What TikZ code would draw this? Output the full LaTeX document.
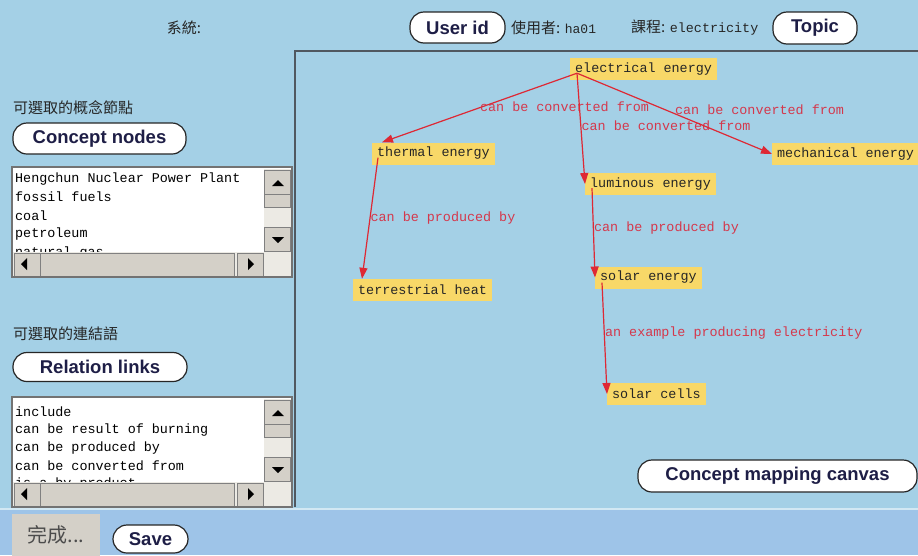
\documentclass[tikz,border=0pt]{standalone}
\usepackage{fontspec}
\setmainfont{Liberation Sans}
\newfontfamily\monofont{Liberation Mono}
\newfontfamily\cjk{Noto Sans CJK TC}
\usetikzlibrary{arrows.meta,positioning}
\definecolor{bgblue}{RGB}{164,208,230}
\definecolor{stripblue}{RGB}{158,196,232}
\definecolor{nodeyellow}{RGB}{248,216,104}
\definecolor{linkred}{RGB}{222,40,52}
\definecolor{labelred}{RGB}{212,56,76}
\definecolor{framegray}{RGB}{80,88,96}
\definecolor{sbgray}{RGB}{212,208,200}
\definecolor{sbtrack}{RGB}{236,234,228}
\definecolor{btnnavy}{RGB}{30,30,70}
\begin{document}
\begin{tikzpicture}[x=1pt, y=-1pt,
    concept/.style = {fill=nodeyellow, text=black!85, font=\monofont\fontsize{13.4}{15}\selectfont,
                      inner xsep=5pt, inner ysep=0pt, minimum height=22pt, anchor=west},
    link/.style = {draw=linkred, line width=1.2pt, -{Triangle[length=11pt,width=8pt]}},
    rel/.style = {text=labelred, font=\monofont\fontsize{13.4}{15}\selectfont, inner sep=0pt, anchor=west},
    pill/.style = {draw=black!85, line width=1.2pt, fill=white, rounded corners=14pt, text=btnnavy,
                   font=\bfseries\fontsize{18.5}{20}\selectfont, inner sep=0pt},
    item/.style = {font=\monofont\fontsize{13.4}{15}\selectfont, inner sep=0pt, anchor=west},
    zh/.style = {font=\cjk\fontsize{15}{17}\selectfont, text=black!85, inner sep=0pt},
    sbtn/.style = {fill=sbgray, draw=black!50, line width=0.8pt}]
\useasboundingbox (0,0) rectangle (918,555);

% window background
\fill[bgblue] (0,0) rectangle (918,509);
\fill[stripblue] (0,509) rectangle (918,555);
\draw[white!50!bgblue, line width=1.5pt] (0,509) -- (918,509);
\draw[framegray, line width=2pt] (295,507) -- (295,51) -- (919,51);

% header
\node[zh] (sys) at (184,28) {系統:};
\node[pill, minimum width=95pt, minimum height=31pt] (userid) at (457.5,27.5) {User id};
\node[zh, anchor=west] (user) at (511,28) {使用者: {\monofont\fontsize{13}{15}\selectfont ha01}};
\node[zh, anchor=west] (course) at (631,28) {課程: {\monofont\fontsize{13.4}{15}\selectfont electricity}};
\node[pill, minimum width=84pt, minimum height=32pt] (topic) at (815,28) {Topic};

% left panel
\node[zh, anchor=west] (nodelbl) at (13,108) {可選取的概念節點};
\node[pill, minimum width=173pt, minimum height=31pt] (cnodes) at (99.5,138.5) {Concept nodes};
\node[zh, anchor=west] (linklbl) at (13,334) {可選取的連結語};
\node[pill, minimum width=174pt, minimum height=29pt] (rlinks) at (100,367) {Relation links};

\foreach \ly in {167,397}
  \fill[white] (12,\ly) rectangle (292,\ly+110);

\foreach \txt [count=\i] in {Hengchun Nuclear Power Plant, fossil fuels, coal, petroleum, natural gas}
  \node[item] (cn\i) at (15,160+18.6*\i) {\txt};
\foreach \txt [count=\i] in {include, can be result of burning, can be produced by, can be converted from, is a by-product}
  \node[item] (rl\i) at (15,393.5+18.1*\i) {\txt};

% scroll bars
\foreach \ly in {167,397} {
  \fill[sbtrack] (264,\ly+2) rectangle (291,\ly+85);
  \draw[sbtn] (264,\ly+3) rectangle (290,\ly+27);
  \fill (272,\ly+19) -- (284,\ly+19) -- (278,\ly+13) -- cycle;
  \draw[sbtn] (264,\ly+27) rectangle (290,\ly+40);
  \draw[sbtn] (264,\ly+60) rectangle (290,\ly+84);
  \fill (272,\ly+70) -- (284,\ly+70) -- (278,\ly+76) -- cycle;
  \fill[sbtrack] (13,\ly+85) rectangle (291,\ly+109);
  \draw[sbtn] (14,\ly+86) rectangle (40,\ly+109);
  \fill (21,\ly+97) -- (27,\ly+91) -- (27,\ly+103) -- cycle;
  \draw[sbtn] (40,\ly+86) rectangle (234,\ly+109);
  \draw[sbtn] (237,\ly+86) rectangle (263,\ly+109);
  \fill (254,\ly+97) -- (248,\ly+91) -- (248,\ly+103) -- cycle;
  \draw[black!55, line width=1.5pt] (12,\ly) rectangle (292,\ly+110);
}

% bottom buttons
\node[fill=sbgray, minimum width=88pt, minimum height=42pt, inner sep=0pt, text=black!70,
      font=\cjk\fontsize{20}{22}\selectfont] (done) at (56,535) {完成...};
\node[pill, minimum width=75pt, minimum height=28pt] (save) at (150.5,539) {Save};
\node[pill, minimum width=279pt, minimum height=32pt] (canvasbtn) at (777.5,476) {Concept mapping canvas};

% concept map
\node[concept] (elec)  at (570,69)    {electrical energy};
\node[concept] (therm) at (372,153.5) {thermal energy};
\node[concept] (mech)  at (772,154)   {mechanical energy};
\node[concept] (lum)   at (585,184)   {luminous energy};
\node[concept] (terr)  at (353,290)   {terrestrial heat};
\node[concept] (solar) at (595,277.5) {solar energy};
\node[concept] (cells) at (607,394)   {solar cells};

\draw[link] ([xshift=7pt,yshift=7pt]elec.south west) -- node[rel, yshift=1pt] {can be converted from} ([xshift=10pt]therm.north west);
\draw[link] ([xshift=7pt,yshift=7pt]elec.south west) -- node[rel, yshift=3pt] {can be converted from} (lum.west);
\draw[link] ([xshift=7pt,yshift=7pt]elec.south west) -- node[rel, yshift=4pt] {can be converted from} (mech.west);
\draw[link] ([xshift=6pt,yshift=7pt]therm.south west) -- node[rel] {can be produced by} ([xshift=9pt]terr.north west);
\draw[link] ([xshift=7pt,yshift=7pt]lum.south west) -- node[rel, yshift=5pt] {can be produced by} (solar.west);
\draw[link] ([xshift=7pt,yshift=6pt]solar.south west) -- node[rel, yshift=5pt] {an example producing electricity} (cells.west);
\end{tikzpicture}
\end{document}
